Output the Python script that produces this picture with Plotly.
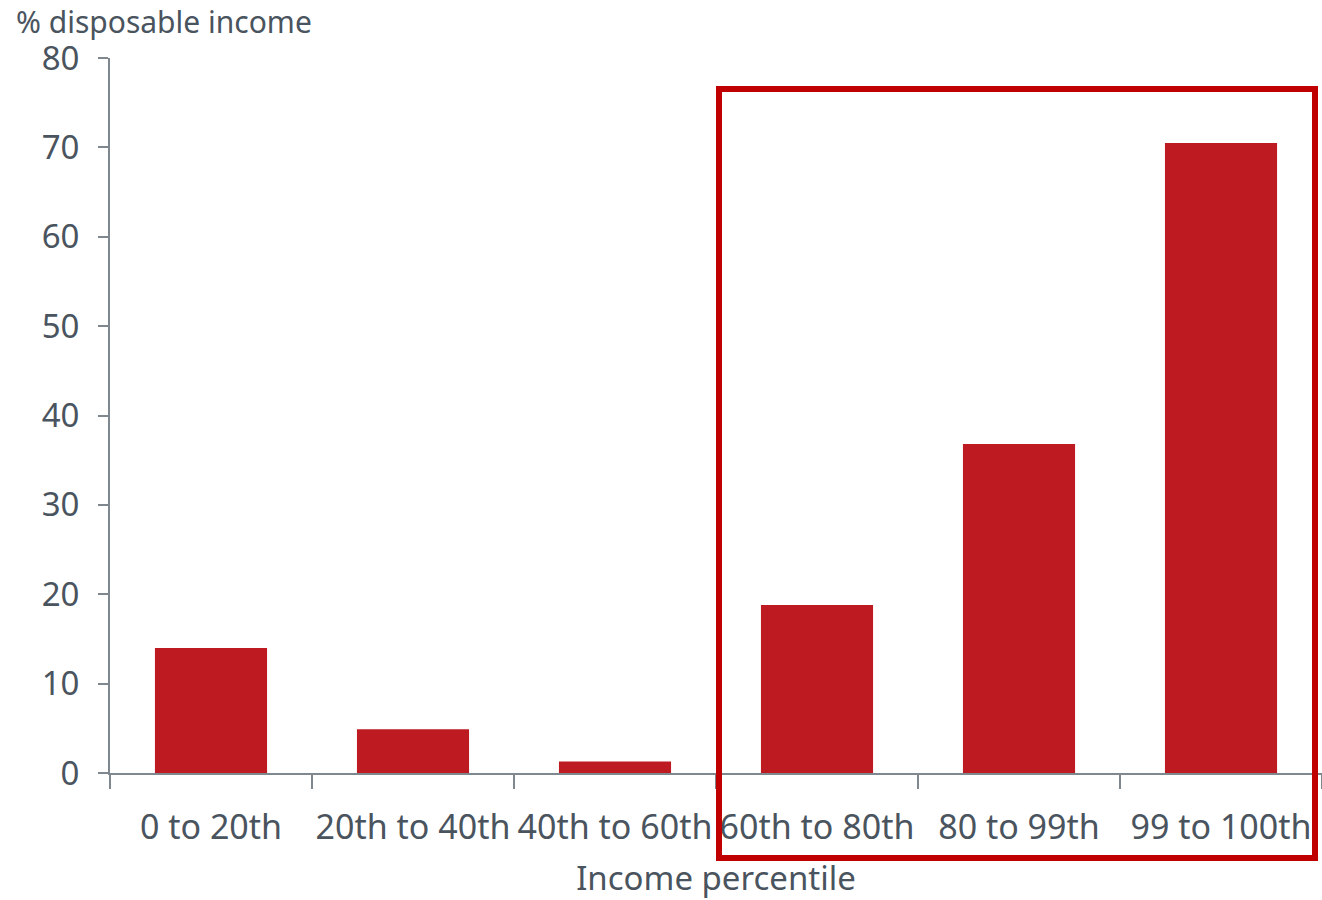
import plotly.graph_objects as go

# Share of disposable income by income percentile group
categories = ["0 to 20th", "20th to 40th", "40th to 60th", "60th to 80th", "80 to 99th", "99 to 100th"]
values = [14.0, 4.9, 1.3, 18.8, 36.8, 70.5]
y_ticks = [0, 10, 20, 30, 40, 50, 60, 70, 80]

BAR_RED = "#BE1A22"
BOX_RED = "#C00000"
TEXT = "#4A545E"
AXIS = "#7F878F"
FONT = "Noto Sans"

fig = go.Figure(
    go.Bar(
        x=categories,
        y=values,
        marker=dict(color=BAR_RED, line=dict(width=0)),
        width=0.555,
    )
)

fig.update_layout(
    width=1322,
    height=900,
    margin=dict(l=110, r=0, t=58, b=127),
    plot_bgcolor="white",
    paper_bgcolor="white",
    font=dict(family=FONT, color=TEXT, size=29),
    showlegend=False,
)

fig.update_xaxes(
    type="category",
    range=[-0.5, 5.5],
    showline=True,
    linecolor=AXIS,
    linewidth=2,
    ticks="outside",
    ticklen=14,
    tickwidth=2,
    tickcolor=AXIS,
    tickson="boundaries",
    tickangle=0,
    showgrid=False,
    automargin=False,
    tickfont=dict(size=34, color=TEXT),
    ticklabelstandoff=23,
    title=dict(text="Income percentile", font=dict(size=33, color=TEXT), standoff=20),
)

fig.update_yaxes(
    range=[0, 80],
    tickvals=y_ticks,
    showline=True,
    linecolor=AXIS,
    linewidth=2,
    ticks="outside",
    ticklen=10,
    tickwidth=2,
    tickcolor=AXIS,
    showgrid=False,
    zeroline=False,
    automargin=False,
    tickfont=dict(size=33, color=TEXT),
    ticklabelstandoff=12,
)

# Axis title placed above the value axis
fig.add_annotation(
    text="% disposable income",
    xref="paper", yref="paper",
    x=-110 / 1212, y=1 + 37 / 715,
    xanchor="left", yanchor="middle",
    showarrow=False,
    font=dict(size=30, color=TEXT, family=FONT),
    xshift=14,
)

# Highlight box around the top three groups
fig.add_shape(
    type="rect",
    xref="paper", yref="paper",
    x0=(719 - 110) / 1212, x1=(1315 - 110) / 1212,
    y0=(773 - 858) / 715, y1=(773 - 89) / 715,
    line=dict(color=BOX_RED, width=6),
    fillcolor="rgba(0,0,0,0)",
    layer="above",
)

fig.write_html("out.html")
